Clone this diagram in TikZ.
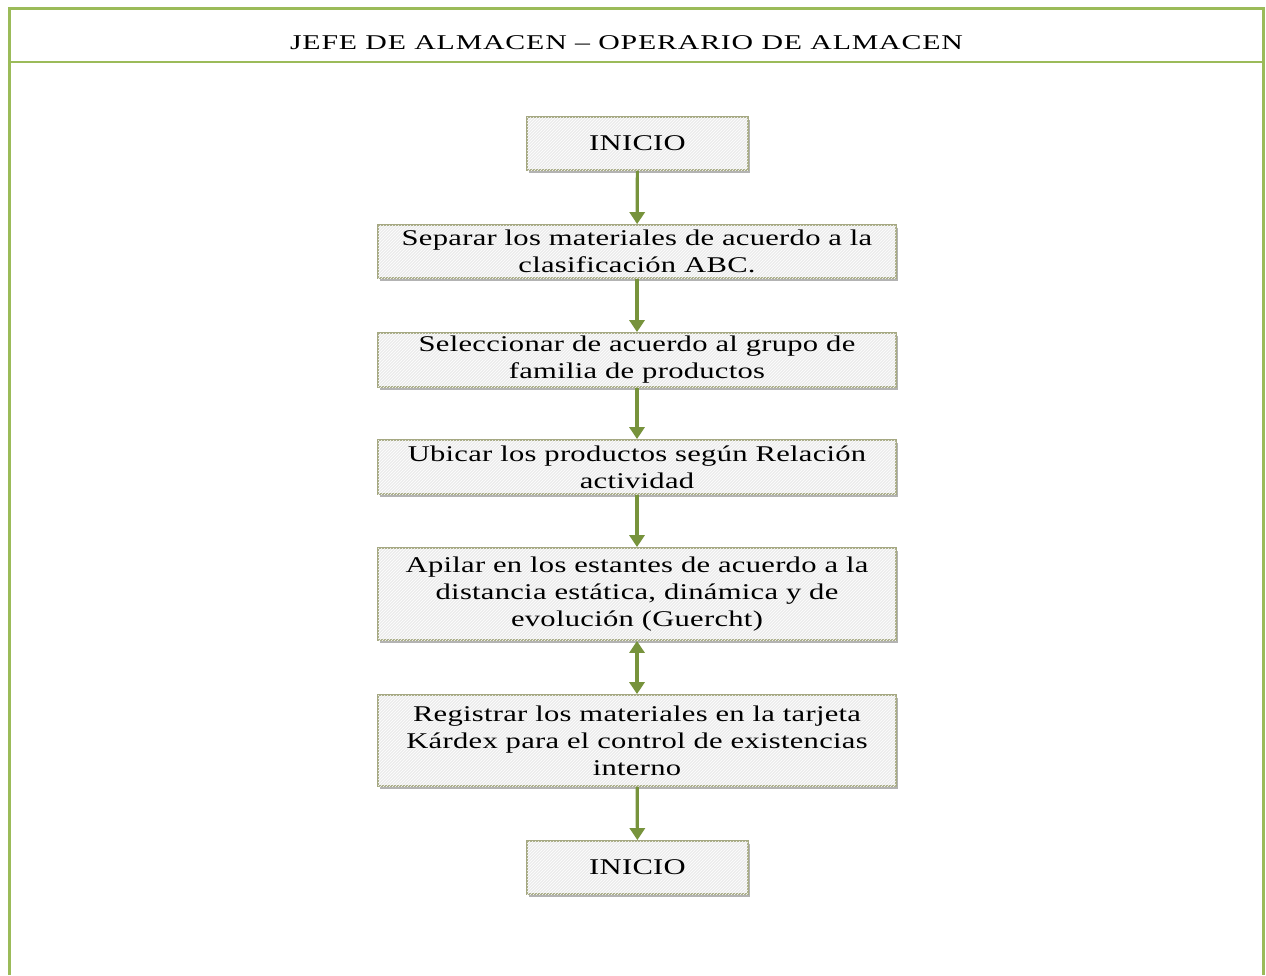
\documentclass[tikz,border=0pt]{standalone}
\usepackage{fontspec}
\setmainfont{Liberation Serif}
\newfontfamily\boxfont{Liberation Serif}[FakeStretch=1.36,LetterSpace=1.2]
\newfontfamily\headfont{Liberation Serif}[FakeStretch=1.42,LetterSpace=4]
\usetikzlibrary{arrows.meta,shadows,patterns}
\definecolor{frameolive}{RGB}{155,187,89}
\definecolor{arrowolive}{RGB}{119,147,60}
\definecolor{boxedge}{RGB}{165,168,130}
\definecolor{boxfill}{RGB}{236,236,236}
\tikzset{
  stepbox/.style={draw=boxedge, line width=1.8pt, fill=boxfill,
    postaction={pattern=north east lines, pattern color=white},
    drop shadow={shadow xshift=2pt, shadow yshift=-3pt, fill=black!50, opacity=0.6},
    inner sep=0pt, align=center, font=\boxfont\fontsize{22.5}{27}\selectfont},
  flow/.style={draw=arrowolive, line width=3.2pt,
    -{Triangle[width=15pt,length=12pt]}},
  flowboth/.style={draw=arrowolive, line width=3.2pt,
    {Triangle[width=15pt,length=12pt]}-{Triangle[width=15pt,length=12pt]}},
}
\begin{document}
\begin{tikzpicture}[x=1pt,y=-1pt]
\useasboundingbox (0,0) rectangle (1266,975);
% outer frame and header band
\draw[frameolive, line width=3pt] (9,975) -- (9,8) -- (1263,8) -- (1263,975);
\draw[frameolive, line width=2.2pt] (9,62) -- (1263,62);
\node[font=\headfont\fontsize{21}{25}\selectfont] (title) at (626.5,43) {JEFE DE ALMACEN – OPERARIO DE ALMACEN};
% process steps
\node[stepbox, minimum width=221pt, minimum height=53pt] (start) at (637.5,143.5) {INICIO};
\node[stepbox, minimum width=518pt, minimum height=53pt] (s1) at (637,251.5) {Separar los materiales de acuerdo a la\\clasificación ABC.};
\node[stepbox, minimum width=518pt, minimum height=54pt] (s2) at (637,360) {Seleccionar de acuerdo al grupo de\\familia de productos};
\node[stepbox, minimum width=518pt, minimum height=54pt] (s3) at (637,467) {Ubicar los productos según Relación\\actividad};
\node[stepbox, minimum width=518pt, minimum height=92pt] (s4) at (637,594) {Apilar en los estantes de acuerdo a la\\distancia estática, dinámica y de\\evolución (Guercht)};
\node[stepbox, minimum width=518pt, minimum height=91pt] (s5) at (637,740.5) {Registrar los materiales en la tarjeta\\Kárdex para el control de existencias\\interno};
\node[stepbox, minimum width=221pt, minimum height=53pt] (end) at (637.5,867.5) {INICIO};
% connectors
\draw[flow] (start) -- (s1);
\draw[flow] (s1) -- (s2);
\draw[flow] (s2) -- (s3);
\draw[flow] (s3) -- (s4);
\draw[flowboth] (s4) -- (s5);
\draw[flow] (s5) -- (end);
\end{tikzpicture}
\end{document}
